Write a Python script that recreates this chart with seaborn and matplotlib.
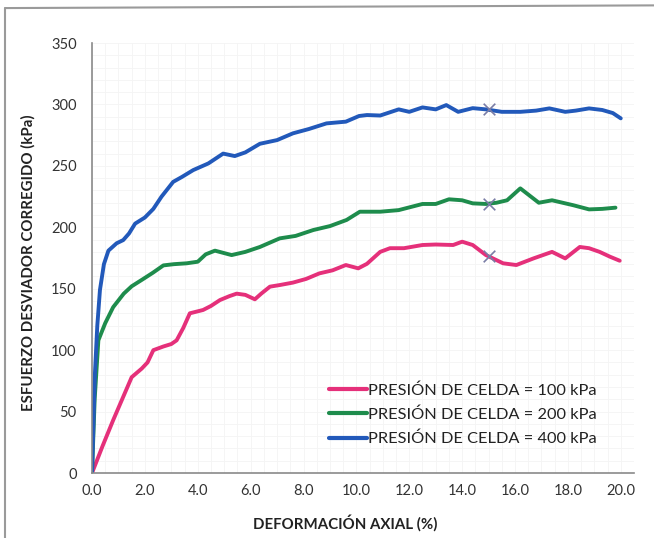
import matplotlib
matplotlib.use("Agg")
import matplotlib.pyplot as plt
import seaborn as sns
import pandas as pd
from matplotlib.lines import Line2D

# Data
x_100 = [0, 0.4, 0.8, 1.2, 1.5, 1.88, 2.1, 2.32, 2.7, 3.0, 3.2, 3.45, 3.7, 4.2, 4.5, 4.84, 5.2, 5.47,
         5.8, 6.16, 6.4, 6.73, 7.1, 7.6, 8.1, 8.6, 9.1, 9.6, 10.07, 10.4, 10.9, 11.27, 11.8, 12.5, 13.0,
         13.66, 14.0, 14.4, 14.9, 15.55, 16.05, 16.7, 17.4, 17.9, 18.45, 18.8, 19.2, 19.6, 19.96]
y_100 = [0, 22, 43, 63, 78, 85, 90, 100, 103, 105, 108, 118, 130, 132.7, 136, 140.8, 144, 146,
         145, 141.4, 146, 151.7, 153, 155, 158, 162.5, 165, 169.3, 166.6, 170.3, 180, 183, 183, 185.6, 186,
         185.6, 188.3, 185.6, 177.4, 170.7, 169.3, 174.7, 180, 174.7, 184, 183, 180, 176, 172.8]

x_200 = [0, 0.1, 0.24, 0.5, 0.8, 1.2, 1.5, 1.94, 2.3, 2.7, 3.1, 3.58, 4.0, 4.3, 4.65, 5.28, 5.8, 6.35,
         7.1, 7.7, 8.37, 9.0, 9.63, 10.13, 10.9, 11.6, 12.5, 13.0, 13.5, 14.0, 14.4, 14.9, 15.3, 15.7,
         16.2, 16.6, 16.9, 17.4, 17.8, 18.2, 18.8, 19.3, 19.8]
y_200 = [0, 60, 108, 122, 135, 146, 152, 158, 163, 169, 170, 170.7, 172, 178, 181, 177.4, 180, 184,
         191, 193, 197.8, 201, 206, 212.7, 212.7, 214, 219, 219, 222.8, 222, 219.5, 219, 220, 222,
         231.7, 225, 220, 222, 220, 218, 214.6, 215, 216]

x_400 = [0, 0.11, 0.2, 0.3, 0.45, 0.62, 0.93, 1.18, 1.4, 1.63, 2.0, 2.32, 2.63, 3.07, 3.4, 3.83, 4.4,
         4.96, 5.4, 5.8, 6.35, 7.0, 7.6, 8.2, 8.87, 9.6, 10.1, 10.4, 10.9, 11.6, 12.0, 12.5, 13.0, 13.4,
         13.85, 14.4, 14.9, 15.5, 16.2, 16.8, 17.3, 17.9, 18.3, 18.8, 19.3, 19.7, 20.0]
y_400 = [0, 81, 120, 149, 170, 181, 187, 189.6, 195, 203, 208, 215, 225, 237, 241, 246.6, 252,
         260, 258, 261, 268, 271, 276.5, 280, 284.6, 286, 290.6, 291.4, 291, 296, 294, 297.6, 296, 299.5,
         294, 297, 296, 294, 294, 295, 296.8, 294, 295, 296.8, 295.5, 293, 288.7]

marker_x = [15.0, 15.0, 15.0]
marker_y = [177, 219, 296]

labels = ["PRESIÓN DE CELDA = 100 kPa", "PRESIÓN DE CELDA = 200 kPa", "PRESIÓN DE CELDA = 400 kPa"]
colors = ["#E5307A", "#1E8C4C", "#2259BA"]
xticks = [0, 2, 4, 6, 8, 10, 12, 14, 16, 18, 20]
xticklabels = ["0.0", "2.0", "4.0", "6.0", "8.0", "10.0", "12.0", "14.0", "16.0", "18.0", "20.0"]
yticks = [0, 50, 100, 150, 200, 250, 300, 350]

frames = []
for xs, ys, lab in [(x_100, y_100, labels[0]), (x_200, y_200, labels[1]), (x_400, y_400, labels[2])]:
    frames.append(pd.DataFrame({"x": xs, "y": ys, "serie": lab}))
df = pd.concat(frames, ignore_index=True)

sns.set_style("white")
plt.rcParams["font.family"] = ["Lato", "DejaVu Sans"]

fig = plt.figure(figsize=(6.54, 5.38), dpi=100)
ax = fig.add_axes([0.1407, 0.1208, 0.8287, 0.7992])

sns.lineplot(data=df, x="x", y="y", hue="serie", palette=dict(zip(labels, colors)),
             linewidth=2.8, sort=False, estimator=None, ax=ax, legend=False)
ax.scatter(marker_x, marker_y, marker="x", s=70, color="#7A7DA6", linewidths=1.2, zorder=5)

ax.set_xlim(0, 20.5)
ax.set_ylim(0, 350)
ax.set_xticks(xticks)
ax.set_xticklabels(xticklabels)
ax.set_yticks(yticks)

# faint background grid
ax.set_xticks([i * 0.5 for i in range(42)], minor=True)
ax.set_yticks(range(0, 351, 10), minor=True)
ax.grid(which="both", color="#f4f4f4", linewidth=0.6)
ax.set_axisbelow(True)

for s in ["top", "right"]:
    ax.spines[s].set_visible(False)
for s in ["left", "bottom"]:
    ax.spines[s].set_color("#8a8a8a")
    ax.spines[s].set_linewidth(1.2)

ax.tick_params(axis="x", which="major", direction="in", length=4, color="#8a8a8a",
               labelsize=10.5, labelcolor="#333333", pad=8)
ax.tick_params(axis="y", which="major", direction="out", length=4, color="#8a8a8a",
               labelsize=10.5, labelcolor="#333333", pad=7)
ax.tick_params(which="minor", length=0)

ax.set_xlabel("DEFORMACIÓN AXIAL (%)", fontsize=10.8, fontweight="bold", color="#222222")
ax.xaxis.set_label_coords(0.468, -0.097)
ax.set_ylabel("ESFUERZO DESVIADOR CORREGIDO (kPa)", fontsize=10.8, fontweight="bold",
              color="#222222")
ax.yaxis.set_label_coords(-0.104, 0.49)

handles = [Line2D([0], [0], color=c, linewidth=3) for c in colors]
ax.legend(handles, labels, loc="upper left", bbox_to_anchor=(0.41, 0.243), frameon=False,
          fontsize=11.8, handlelength=2.3, handletextpad=0.1, labelspacing=0.6,
          labelcolor="#222222")

# scan frame (top and left edges)
fig.add_artist(Line2D([0.008, 1.0], [0.985, 0.99], color="#9a9a9a", linewidth=1.5,
                      transform=fig.transFigure))
fig.add_artist(Line2D([0.008, 0.008], [0.0, 0.985], color="#9a9a9a", linewidth=1.5,
                      transform=fig.transFigure))

fig.savefig("out.png", dpi=100)
